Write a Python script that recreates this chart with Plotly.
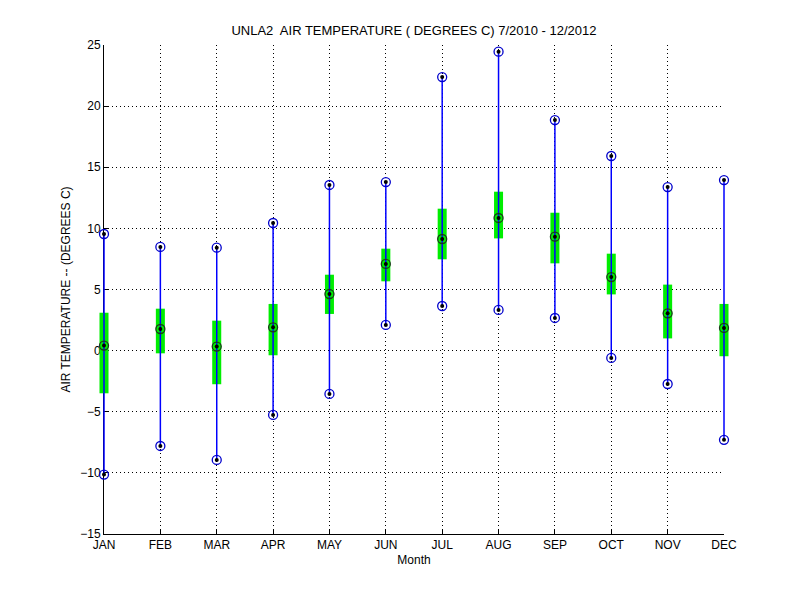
import plotly.graph_objects as go

# Monatswerte
months = ["JAN", "FEB", "MAR", "APR", "MAY", "JUN", "JUL", "AUG", "SEP", "OCT", "NOV", "DEC"]
month_pos = list(range(1, 13))
t_max = [9.54, 8.48, 8.42, 10.44, 13.55, 13.79, 22.38, 24.45, 18.86, 15.92, 13.38, 13.95]
t_min = [-10.14, -7.8, -8.94, -5.26, -3.54, 2.1, 3.65, 3.33, 2.67, -0.6, -2.73, -7.3]
t_median = [0.41, 1.77, 0.33, 1.91, 4.63, 7.09, 9.13, 10.85, 9.32, 6.02, 3.05, 1.86]
box_top = [3.1, 3.43, 2.45, 3.82, 6.21, 8.34, 11.61, 13.0, 11.28, 7.93, 5.4, 3.82]
box_bottom = [-3.49, -0.22, -2.75, -0.38, 3.0, 5.67, 7.47, 9.18, 7.14, 4.6, 1.0, -0.46]

FONT = "Liberation Sans, Arial, sans-serif"

# Achsen-Geometrie: sichtbare Achse JAN..DEC, Daten-Achse etwas breiter,
# damit Boxen und Linien an JAN/DEC nicht abgeschnitten werden
ML, MR = 76, 64
PLOT_W = 800 - ML - MR
PAD_PX = 20
px_per_month = (PLOT_W - 2 * PAD_PX) / 11
pad = PAD_PX / px_per_month

fig = go.Figure()

# unsichtbare Spur fuer die sichtbaren Achsen
fig.add_trace(go.Scatter(x=[1, 12], y=[0, 0], mode="markers", opacity=0,
                         hoverinfo="skip", xaxis="x", yaxis="y"))

# Gruene Boxen (Quartile)
fig.add_trace(go.Bar(
    x=month_pos,
    y=[t - b for t, b in zip(box_top, box_bottom)],
    base=box_bottom,
    width=0.16,
    marker=dict(color="#00ee00", line=dict(width=0)),
    hoverinfo="skip", xaxis="x2", yaxis="y2",
))

# Blaue Linien min -> max
line_x, line_y = [], []
for m, lo, hi in zip(month_pos, t_min, t_max):
    line_x += [m, m, None]
    line_y += [lo, hi, None]
fig.add_trace(go.Scatter(x=line_x, y=line_y, mode="lines",
                         line=dict(color="#0000ff", width=1.5),
                         xaxis="x2", yaxis="y2"))

# Extremwerte: blauer Kreis + schwarzer Punkt
ext_x = month_pos + month_pos
ext_y = t_max + t_min
fig.add_trace(go.Scatter(x=ext_x, y=ext_y, mode="markers", cliponaxis=False,
                         marker=dict(symbol="circle-open", size=9, color="#0000cc",
                                     line=dict(width=1.3)),
                         xaxis="x2", yaxis="y2"))
fig.add_trace(go.Scatter(x=ext_x, y=ext_y, mode="markers", cliponaxis=False,
                         marker=dict(symbol="circle", size=4, color="black"),
                         xaxis="x2", yaxis="y2"))

# Median: schwarzer Kreis + Punkt
fig.add_trace(go.Scatter(x=month_pos, y=t_median, mode="markers", cliponaxis=False,
                         marker=dict(symbol="circle-open", size=9, color="#1a3a1a",
                                     line=dict(width=1.3)),
                         xaxis="x2", yaxis="y2"))
fig.add_trace(go.Scatter(x=month_pos, y=t_median, mode="markers", cliponaxis=False,
                         marker=dict(symbol="circle", size=4, color="black"),
                         xaxis="x2", yaxis="y2"))

fig.update_layout(
    width=800, height=600,
    paper_bgcolor="white", plot_bgcolor="rgba(0,0,0,0)",
    showlegend=False,
    margin=dict(l=ML, r=MR, t=37, b=74),
    font=dict(family=FONT, size=12, color="black"),
    title=dict(text="UNLA2\u00a0 AIR TEMPERATURE ( DEGREES C) 7/2010 - 12/2012",
               x=0.5, xref="paper", y=0.963, yref="container",
               xanchor="center", yanchor="middle",
               font=dict(family=FONT, size=13, color="black")),
    xaxis=dict(
        domain=[PAD_PX / PLOT_W, 1 - PAD_PX / PLOT_W],
        range=[1, 12], tickvals=month_pos, ticktext=months,
        showline=True, linecolor="black", linewidth=1,
        ticks="inside", ticklen=5, tickcolor="black",
        showgrid=True, gridcolor="black", gridwidth=1, griddash="1px,3px",
        zeroline=False, layer="below traces",
        title=dict(text="Month", standoff=4, font=dict(size=12)),
    ),
    yaxis=dict(
        range=[-15, 25], tickvals=list(range(-15, 30, 5)),
        showline=True, linecolor="black", linewidth=1,
        ticks="inside", ticklen=5, tickcolor="black",
        showgrid=True, gridcolor="black", gridwidth=1, griddash="1px,3px",
        zeroline=False, layer="below traces",
        title=dict(text="AIR TEMPERATURE -- (DEGREES C)", standoff=7, font=dict(size=12)),
    ),
    xaxis2=dict(domain=[0, 1], range=[1 - pad, 12 + pad], visible=False,
                anchor="y2"),
    yaxis2=dict(domain=[0, 1], range=[-15, 25], visible=False, anchor="x2"),
)

fig.write_html("out.html")
